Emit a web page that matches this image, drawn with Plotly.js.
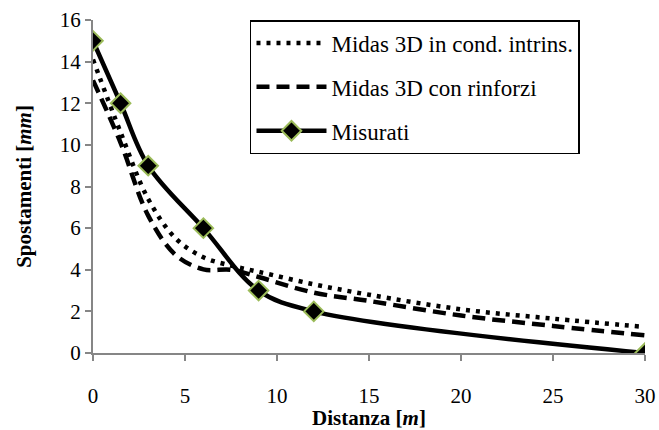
<!DOCTYPE html>
<html>
<head>
<meta charset="utf-8">
<script src="https://cdn.plot.ly/plotly-3.0.1.min.js"></script>
<style>html,body{margin:0;padding:0;background:#fff;}#chart{width:659px;height:430px;}</style>
</head>
<body>
<div id="chart"></div>
<script>
// Data
const seriesNames = ["Midas 3D in cond. intrins.", "Midas 3D con rinforzi", "Misurati"];
const xModel = [0, 1.5, 3, 4.5, 6, 7.5, 9, 12, 15, 20, 25, 30];
const yIntrins = [14.1, 10.6, 7.4, 5.5, 4.6, 4.2, 3.9, 3.3, 2.8, 2.1, 1.65, 1.25];
const yRinforzi = [13.1, 10.1, 6.6, 4.7, 4.02, 4.0, 3.65, 2.9, 2.5, 1.8, 1.3, 0.85];
const xMeasured = [0, 1.5, 3, 6, 9, 12, 30];
const yMeasured = [15, 12, 9, 6, 3, 2, 0];
const xTicks = [0, 5, 10, 15, 20, 25, 30];
const yTicks = [0, 2, 4, 6, 8, 10, 12, 14, 16];

const serif = "Liberation Serif, Times New Roman, serif";

const traces = [
  {x: xModel, y: yIntrins, name: seriesNames[0], mode: "lines", legendgroup: "a",
   line: {color: "#000", width: 4.5, dash: "4px,6px", shape: "spline", smoothing: 1}},
  {x: xModel, y: yRinforzi, name: seriesNames[1], mode: "lines", legendgroup: "b",
   line: {color: "#000", width: 4.5, dash: "13px,7px", shape: "spline", smoothing: 1}},
  {x: xMeasured, y: yMeasured, name: seriesNames[2], mode: "lines+markers", legendgroup: "c",
   line: {color: "#000", width: 4.5, shape: "spline", smoothing: 1},
   marker: {symbol: "diamond", size: 15, color: "#000", line: {color: "#9BBB59", width: 2}}}
];

const layout = {
  width: 659, height: 430,
  margin: {l: 93, r: 14, t: 20, b: 77},
  paper_bgcolor: "#fff", plot_bgcolor: "#fff",
  font: {family: serif, size: 21, color: "#000"},
  showlegend: true,
  legend: {
    x: 0.2844, y: 1, xanchor: "left", yanchor: "top",
    bordercolor: "#000", borderwidth: 1.5, bgcolor: "#fff",
    font: {family: serif, size: 23, color: "#000"},
    tracegroupgap: 11, itemwidth: 70
  },
  xaxis: {
    range: [0, 30], tickvals: xTicks, ticktext: xTicks.map(String),
    showgrid: false, zeroline: false, showline: true, linecolor: "#868686", linewidth: 2,
    ticks: "outside", ticklen: 6, tickcolor: "#868686", tickwidth: 2,
    ticklabelstandoff: 17,
    tickfont: {family: serif, size: 21, color: "#000"},
    title: {text: "<b>Distanza [<i>m</i>]</b>", font: {family: serif, size: 21, color: "#000"}, standoff: 0}
  },
  yaxis: {
    range: [0, 16], tickvals: yTicks, ticktext: yTicks.map(String),
    showgrid: false, zeroline: false, showline: true, linecolor: "#868686", linewidth: 2,
    ticks: "outside", ticklen: 6, tickcolor: "#868686", tickwidth: 2,
    tickfont: {family: serif, size: 21, color: "#000"},
    title: {text: "<b>Spostamenti [<i>mm</i>]</b>", font: {family: serif, size: 21, color: "#000"}, standoff: 22}
  }
};

Plotly.newPlot("chart", traces, layout, {displayModeBar: false, staticPlot: true});
</script>
</body>
</html>
